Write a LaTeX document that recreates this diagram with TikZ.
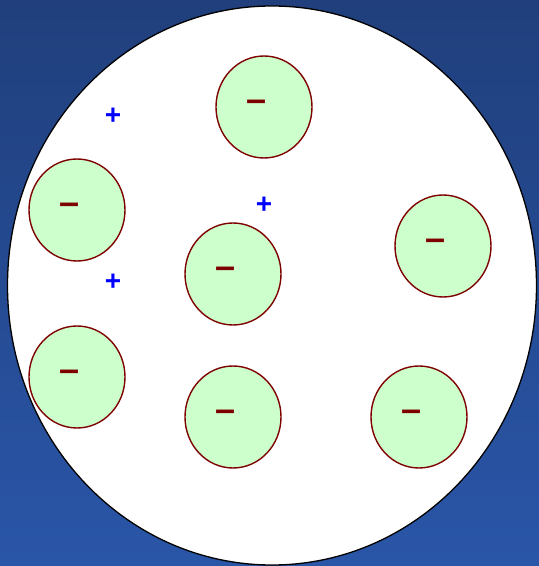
\documentclass[tikz,border=0pt]{standalone}
\usepackage{fontspec}
\setmainfont{Liberation Sans}
\usetikzlibrary{shapes.geometric}

\definecolor{bgtop}{HTML}{203F7C}
\definecolor{bgbottom}{HTML}{2A56A8}
\definecolor{ionfill}{HTML}{CCFFCC}
\definecolor{iondraw}{HTML}{7F0000}

\begin{document}
\begin{tikzpicture}[x=1pt,y=1pt]
  \useasboundingbox (0,0) rectangle (539,566);
  \shade[top color=bgtop,bottom color=bgbottom] (0,0) rectangle (539,566);

  \tikzset{anion/.style={ellipse,draw=iondraw,line width=1.4pt,fill=ionfill,
    minimum width=96pt,minimum height=102pt,inner sep=0pt},
    minus/.style={font=\bfseries\fontsize{36}{36}\selectfont,text=iondraw,inner sep=0pt},
    cation/.style={font=\bfseries\fontsize{28}{28}\selectfont,text=blue,inner sep=0pt}}

  \node[ellipse,draw=black,line width=1.3pt,fill=white,minimum width=529pt,
    minimum height=559pt,inner sep=0pt] (drop) at (272,280.5) {};

  \node[anion] (a1) at (264,459) {};
  \node[anion] (a2) at (77,356) {};
  \node[anion] (a3) at (233,292) {};
  \node[anion] (a4) at (443,320) {};
  \node[anion] (a5) at (77,189) {};
  \node[anion] (a6) at (233,149) {};
  \node[anion] (a7) at (419,149) {};

  \foreach \n in {a1,a2,a3,a4,a5,a6,a7}
    \node[minus] (\n m) at ([xshift=-7pt,yshift=1pt]\n.center) {–};

  \node[cation] (c1) at (113,450) {+};
  \node[cation] (c2) at (264,361) {+};
  \node[cation] (c3) at (113,284) {+};
\end{tikzpicture}
\end{document}
